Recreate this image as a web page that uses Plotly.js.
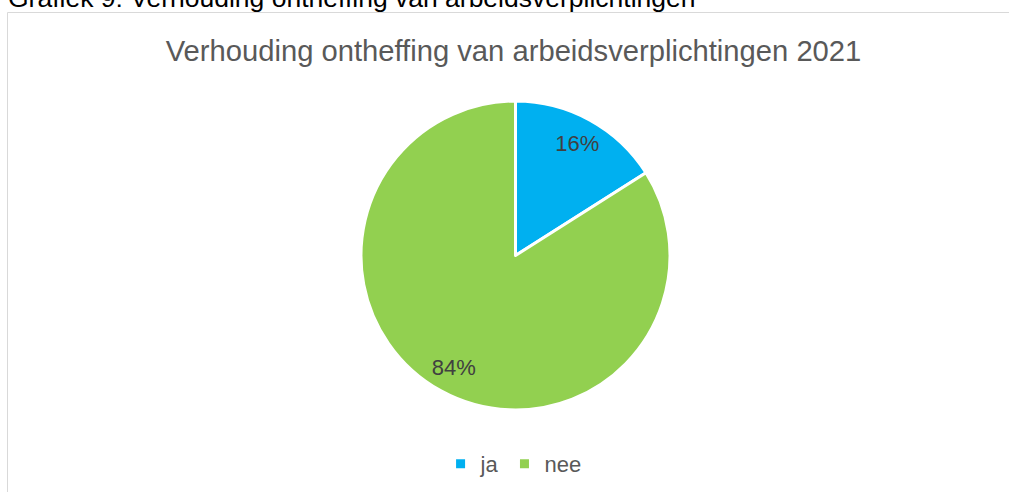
<!DOCTYPE html>
<html>
<head>
<meta charset="utf-8">
<script src="https://cdn.plot.ly/plotly-3.0.1.min.js"></script>
<style>html,body{margin:0;padding:0;background:#fff;}#chart{width:1009px;height:492px;}</style>
</head>
<body>
<div id="chart"></div>
<script>
var categories = ["ja", "nee"];
var values = [16, 84];
var colors = ["#00B0F0", "#92D050"];
var chartTitle = "Verhouding ontheffing van arbeidsverplichtingen 2021";
var captionText = "Grafiek 9: Verhouding ontheffing van arbeidsverplichtingen";

var W = 1009, H = 492;
var FONT = "Liberation Sans, Arial, sans-serif";
var pieDomain = {x: [361 / W, 670 / W], y: [(H - 410) / H, (H - 101) / H]};

var pieTrace = {
  type: "pie",
  labels: categories,
  values: values,
  sort: false,
  direction: "clockwise",
  rotation: 0,
  marker: {colors: colors, line: {color: "#ffffff", width: 3}},
  textinfo: "none",
  hoverinfo: "none",
  domain: pieDomain
};

// transparent ring, used only to place the percentage labels at Excel's label radius
var labelTrace = {
  type: "pie",
  labels: categories,
  values: values,
  sort: false,
  direction: "clockwise",
  rotation: 0,
  hole: 0.66,
  marker: {colors: ["rgba(0,0,0,0)", "rgba(0,0,0,0)"], line: {width: 0}},
  textinfo: "percent",
  texttemplate: "%{percent:.0%}",
  textposition: "inside",
  insidetextorientation: "horizontal",
  textfont: {family: FONT, size: 22, color: "#404040"},
  hoverinfo: "none",
  showlegend: false,
  domain: pieDomain
};

var layout = {
  width: W, height: H,
  margin: {l: 0, r: 0, t: 0, b: 0},
  paper_bgcolor: "#ffffff",
  font: {family: FONT, color: "#595959"},
  title: {
    text: chartTitle,
    font: {family: FONT, size: 29.2, color: "#595959"},
    x: 513.5 / W, xanchor: "center",
    y: 1 - 50.5 / H, yanchor: "middle"
  },
  showlegend: true,
  legend: {
    orientation: "h",
    x: 0.509, xanchor: "center",
    y: (H - 464) / H, yanchor: "middle",
    font: {family: FONT, size: 22, color: "#595959"},
    itemwidth: 30,
    traceorder: "normal"
  },
  shapes: [{
    type: "rect", xref: "paper", yref: "paper",
    x0: 7.5 / W, x1: 1.2, y0: -0.2, y1: 1 - 12.5 / H,
    line: {color: "#D9D9D9", width: 1}, fillcolor: "rgba(0,0,0,0)"
  }],
  annotations: [{
    text: captionText, xref: "paper", yref: "paper",
    x: 6 / W, xanchor: "left", y: 1 - 15 / H, yanchor: "bottom",
    showarrow: false,
    font: {family: FONT, size: 26.5, color: "#000000"}
  }]
};

Plotly.newPlot("chart", [pieTrace, labelTrace], layout, {displayModeBar: false, staticPlot: true});
</script>
</body>
</html>
